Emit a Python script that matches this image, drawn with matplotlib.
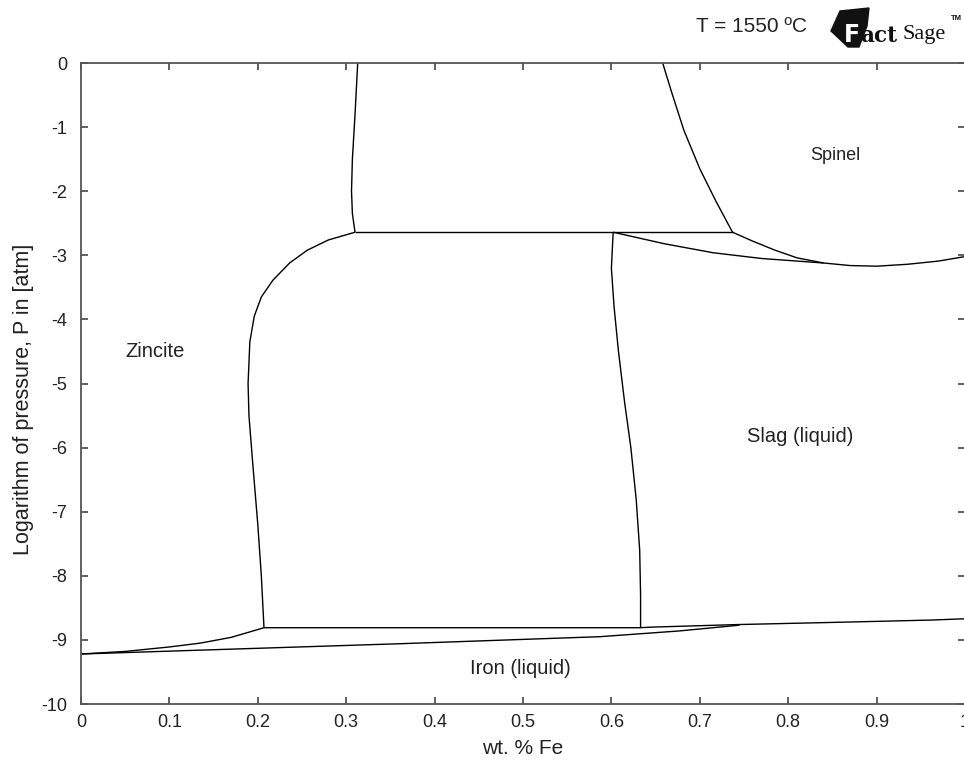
import matplotlib
matplotlib.use('agg')
import matplotlib.pyplot as plt
from matplotlib.patches import Polygon

plt.rcParams['font.family'] = ['Liberation Sans', 'DejaVu Sans']

# phase boundaries (x = wt. % Fe, y = log P)
zn_upper_x = [0.313, 0.310, 0.307, 0.306, 0.307, 0.310]
zn_upper_y = [0.0, -0.8, -1.5, -2.0, -2.35, -2.64]

gas_line_x = [0.310, 0.737]
gas_line_y = [-2.64, -2.64]

spinel_left_x = [0.658, 0.668, 0.682, 0.700, 0.718, 0.737]
spinel_left_y = [0.0, -0.45, -1.05, -1.65, -2.15, -2.64]

spinel_low_x = [0.737, 0.760, 0.785, 0.810, 0.840, 0.870, 0.900, 0.935, 0.970, 1.0]
spinel_low_y = [-2.64, -2.78, -2.92, -3.04, -3.12, -3.16, -3.17, -3.14, -3.09, -3.02]

slag_top_x = [0.602, 0.660, 0.715, 0.770, 0.840]
slag_top_y = [-2.64, -2.82, -2.96, -3.05, -3.12]

slag_left_x = [0.602, 0.600, 0.603, 0.608, 0.615, 0.622, 0.628, 0.632, 0.633, 0.633]
slag_left_y = [-2.64, -3.2, -3.8, -4.5, -5.3, -6.0, -6.8, -7.6, -8.3, -8.81]

zincite_x = [0.310, 0.280, 0.256, 0.236, 0.217, 0.204, 0.196, 0.191, 0.189, 0.190, 0.194, 0.200, 0.204, 0.207]
zincite_y = [-2.64, -2.76, -2.92, -3.12, -3.39, -3.65, -3.95, -4.35, -5.0, -5.5, -6.2, -7.2, -8.0, -8.81]

iron_top_x = [0.207, 0.632, 0.647, 0.745, 0.873, 0.963, 1.0]
iron_top_y = [-8.81, -8.81, -8.80, -8.76, -8.72, -8.69, -8.67]

iron_low_x = [0.0, 0.112, 0.36, 0.587, 0.677, 0.745]
iron_low_y = [-9.22, -9.17, -9.06, -8.95, -8.86, -8.77]

zn_iron_x = [0.0, 0.05, 0.10, 0.135, 0.17, 0.207]
zn_iron_y = [-9.22, -9.18, -9.11, -9.05, -8.96, -8.81]

curves = [
    (zn_upper_x, zn_upper_y), (gas_line_x, gas_line_y),
    (spinel_left_x, spinel_left_y), (spinel_low_x, spinel_low_y),
    (slag_top_x, slag_top_y), (slag_left_x, slag_left_y),
    (zincite_x, zincite_y), (iron_top_x, iron_top_y),
    (iron_low_x, iron_low_y), (zn_iron_x, zn_iron_y),
]

phase_names = ['Spinel', 'Zincite', 'Slag (liquid)', 'Iron (liquid)']
phase_x = [0.853, 0.084, 0.813, 0.497]
phase_y = [-1.44, -4.5, -5.83, -9.44]
phase_size = [13, 14.5, 14.5, 14.5]

x_ticks = [0, 0.1, 0.2, 0.3, 0.4, 0.5, 0.6, 0.7, 0.8, 0.9, 1.0]
x_labels = ['0', '0.1', '0.2', '0.3', '0.4', '0.5', '0.6', '0.7', '0.8', '0.9', '1']
y_ticks = [0, -1, -2, -3, -4, -5, -6, -7, -8, -9, -10]
y_labels = ['0', '-1', '-2', '-3', '-4', '-5', '-6', '-7', '-8', '-9', '-10']

W, H = 964, 766
fig = plt.figure(figsize=(W / 100, H / 100), dpi=100)
ax = fig.add_axes([81 / W, 62 / H, 884 / W, 641 / H])

for cx, cy in curves:
    ax.plot(cx, cy, color='black', lw=1.0, solid_capstyle='butt')

for name, tx, ty, fs in zip(phase_names, phase_x, phase_y, phase_size):
    ax.text(tx, ty, name, fontsize=fs, ha='center', va='center', color='#222222')

ax.set_xlim(0, 1)
ax.set_ylim(-10, 0)
ax.set_xticks(x_ticks)
ax.set_xticklabels(x_labels)
ax.set_yticks(y_ticks)
ax.set_yticklabels(y_labels)
ax.tick_params(direction='in', length=5, width=1.2, color='#444444',
               labelsize=13, labelcolor='#222222', top=True, right=True)
ax.tick_params(axis='x', pad=7)
ax.tick_params(axis='y', pad=10)
for s in ax.spines.values():
    s.set_color('#555555')
    s.set_linewidth(1.3)

ax.set_xlabel('wt. % Fe', fontsize=15, color='#222222', labelpad=6)
ax.set_ylabel('Logarithm of pressure, P in [atm]', fontsize=15.5, color='#222222')
ax.yaxis.set_label_coords(-47 / 884, 0.475)

# temperature + FactSage logo
fig.text(752 / W, 1 - 26 / H, 'T = 1550 ºC', fontsize=15, ha='center', va='center', color='#222222')
logo = Polygon([(831 / W, 1 - 31 / H), (840 / W, 1 - 11 / H), (869 / W, 1 - 8 / H),
                (867 / W, 1 - 26 / H), (859 / W, 1 - 47 / H), (848 / W, 1 - 47 / H)],
               closed=True, transform=fig.transFigure, color='#111111')
fig.patches.append(logo)
fig.text(844 / W, 1 - 35 / H, 'F', fontsize=17, fontweight='bold', color='white',
         ha='left', va='center', family='DejaVu Sans')
fig.text(860 / W, 1 - 36 / H, 'act', fontsize=15.5, fontweight='bold', color='#111111',
         ha='left', va='center', family='DejaVu Serif')
fig.text(902 / W, 1 - 34 / H, 'Sage', fontsize=16, color='#111111',
         ha='left', va='center', family='Liberation Serif')
fig.text(951 / W, 1 - 18 / H, 'TM', fontsize=5.5, color='#111111', fontweight='bold',
         ha='left', va='center')

fig.savefig('out.png', dpi=100)
